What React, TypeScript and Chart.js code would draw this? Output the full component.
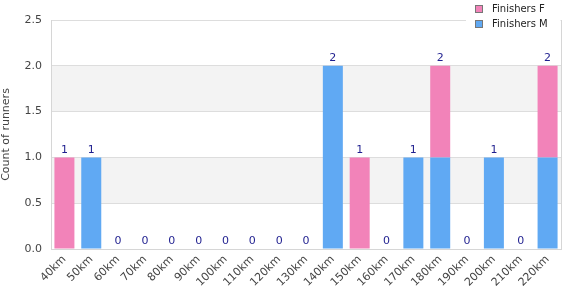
import React, { useEffect, useRef } from "react";
import { Chart, registerables } from "chart.js";

Chart.register(...registerables);

const categories = ["40km", "50km", "60km", "70km", "80km", "90km", "100km", "110km", "120km", "130km", "140km", "150km", "160km", "170km", "180km", "190km", "200km", "210km", "220km"];
const finishersM = [0, 1, 0, 0, 0, 0, 0, 0, 0, 0, 2, 0, 0, 1, 1, 0, 1, 0, 1];
const finishersF = [1, 0, 0, 0, 0, 0, 0, 0, 0, 0, 0, 1, 0, 0, 1, 0, 0, 0, 1];
const yTicks = [0, 0.5, 1, 1.5, 2, 2.5];

const FONT = "'DejaVu Sans', Verdana, sans-serif";
const PINK = "#f283b9";
const BLUE = "#60a9f3";

const decorPlugin = {
  id: "decor",
  beforeDraw(chart: any) {
    const { ctx, chartArea, scales } = chart;
    const y = scales.y;
    ctx.save();
    ctx.fillStyle = "#f3f3f3";
    const bands = [[0.5, 1.0], [1.5, 2.0]];
    for (const [a, b] of bands) {
      const top = y.getPixelForValue(b);
      const bot = y.getPixelForValue(a);
      ctx.fillRect(chartArea.left, top, chartArea.right - chartArea.left, bot - top);
    }
    ctx.restore();
  },
  afterDatasetsDraw(chart: any) {
    const { ctx, scales } = chart;
    const x = scales.x;
    const y = scales.y;
    ctx.save();
    ctx.font = `11px ${FONT}`;
    ctx.fillStyle = "#1f1f8f";
    ctx.textAlign = "center";
    ctx.textBaseline = "bottom";
    categories.forEach((_, i) => {
      const total = finishersM[i] + finishersF[i];
      ctx.fillText(String(total), x.getPixelForValue(i), y.getPixelForValue(total) - 2);
    });
    ctx.restore();
  },
  afterDraw(chart: any) {
    const { ctx, chartArea } = chart;
    ctx.save();
    ctx.fillStyle = "#ffffff";
    ctx.fillRect(466, 0, chartArea.right - 466 - 0.5, 34);
    ctx.strokeStyle = "#d6d6d6";
    ctx.lineWidth = 1;
    ctx.beginPath();
    ctx.moveTo(Math.round(chartArea.right) + 0.5, chartArea.top);
    ctx.lineTo(Math.round(chartArea.right) + 0.5, chartArea.bottom);
    ctx.stroke();
    const items = [
      { label: "Finishers F", color: PINK, y: 9 },
      { label: "Finishers M", color: BLUE, y: 24 },
    ];
    ctx.font = `10px ${FONT}`;
    ctx.textAlign = "left";
    ctx.textBaseline = "middle";
    for (const it of items) {
      ctx.fillStyle = it.color;
      ctx.fillRect(475, it.y - 4, 8, 8);
      ctx.strokeStyle = "#777777";
      ctx.strokeRect(475.5, it.y - 3.5, 7, 7);
      ctx.fillStyle = "#222222";
      ctx.fillText(it.label, 492, it.y);
    }
    ctx.restore();
  },
};

export default function App() {
  const ref = useRef<HTMLCanvasElement | null>(null);
  useEffect(() => {
    if (!ref.current) return;
    const chart = new Chart(ref.current, {
      type: "bar",
      data: {
        labels: categories,
        datasets: [
          { label: "Finishers M", data: finishersM, backgroundColor: BLUE, borderWidth: 0 },
          { label: "Finishers F", data: finishersF, backgroundColor: PINK, borderWidth: 0 },
        ],
      },
      options: {
        responsive: false,
        animation: false,
        layout: { padding: { left: 0, right: 9, top: 20, bottom: 0 } },
        datasets: { bar: { categoryPercentage: 0.745, barPercentage: 1 } },
        plugins: { legend: { display: false }, tooltip: { enabled: false } },
        scales: {
          x: {
            stacked: true,
            grid: { display: false, drawTicks: false },
            border: { display: true, color: "#d6d6d6" },
            ticks: {
              maxRotation: 45,
              minRotation: 45,
              autoSkip: false,
              padding: 4,
              color: "#444444",
              font: { family: FONT, size: 11 },
            },
            afterFit(scale: any) {
              scale.height = 51;
              scale.paddingLeft = 0;
              scale.paddingRight = 0;
            },
          },
          y: {
            stacked: true,
            min: 0,
            max: 2.5,
            afterBuildTicks(scale: any) {
              scale.ticks = yTicks.map((v) => ({ value: v }));
            },
            grid: { color: "#dddddd", drawTicks: false },
            border: { display: true, color: "#d6d6d6" },
            ticks: {
              padding: 9,
              color: "#444444",
              font: { family: FONT, size: 11 },
              callback: (v: any) => Number(v).toFixed(1),
            },
            title: {
              display: true,
              text: "Count of runners",
              color: "#444444",
              font: { family: FONT, size: 11 },
              padding: 0,
            },
            afterFit(scale: any) {
              scale.width = 51;
            },
          },
        },
      },
      plugins: [decorPlugin],
    });
    return () => chart.destroy();
  }, []);
  return (
    <div style={{ position: "absolute", left: 0, top: 0, width: 570, height: 300 }}>
      <canvas ref={ref} width={570} height={300} style={{ display: "block" }} />
    </div>
  );
}
